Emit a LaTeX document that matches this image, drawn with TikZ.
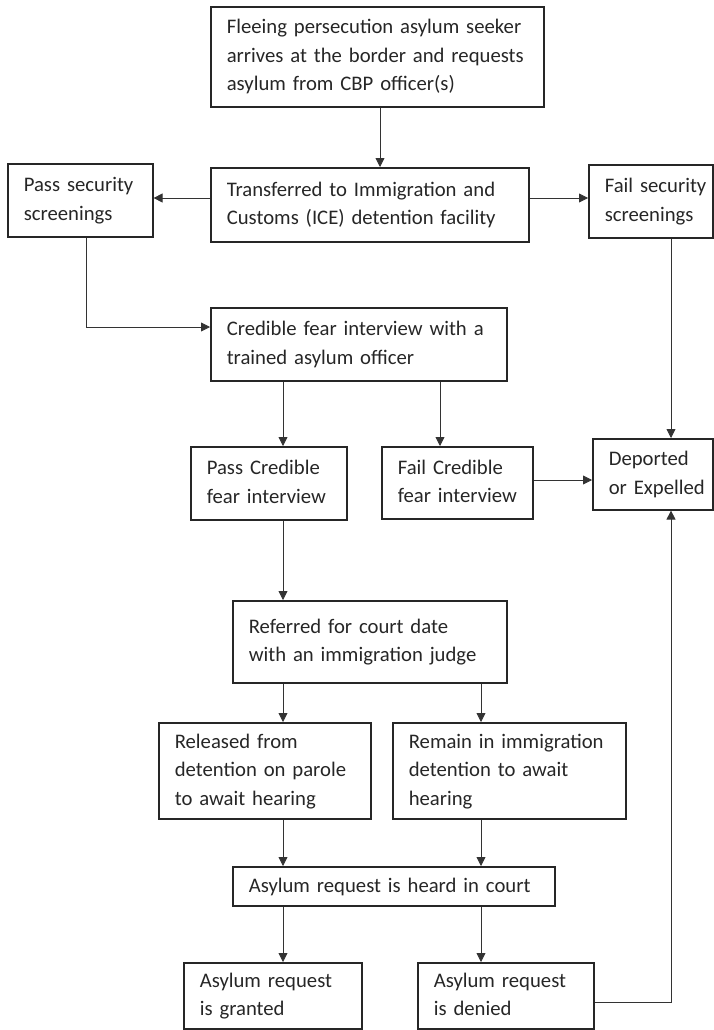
\documentclass[tikz,border=0pt]{standalone}
\usepackage{fontspec}
\setmainfont{Carlito}
\usepackage{xcolor}
\usepackage{tikz}
\usetikzlibrary{positioning,calc,arrows.meta}

% các dòng chữ trong hộp, không ngắt dòng
\newcommand{\boxlines}[1]{\begin{tabular}{@{}l@{}}#1\end{tabular}}

\begin{document}
\begin{tikzpicture}[
	x=1pt, y=-1pt,
	font=\fontsize{20.7}{28.5}\selectfont,
	% Style cho các hộp bước
	box/.style={
		draw=black!85, line width=1.6pt, rectangle,
		anchor=north west, align=left, text=black!85,
		inner xsep=16pt, inner ysep=2pt
	},
	% Style cho các mũi tên nối
	arr/.style={
		-{Triangle[length=9pt,width=9pt]},
		draw=black!80, line width=0.8pt
	}
	]
	
	\useasboundingbox (0,0) rectangle (714,1030);
	
	% ================= Các cột / hàng cho mũi tên =================
	\coordinate (xa) at (380,0);
	\coordinate (xl) at (283,0);
	\coordinate (xf) at (440,0);
	\coordinate (xr) at (481,0);
	\coordinate (xp) at (86,0);
	\coordinate (xd) at (671,0);
	\coordinate (ya) at (0,198);
	\coordinate (yb) at (0,327);
	\coordinate (yc) at (0,480);
	\coordinate (ye) at (0,1002);
	
	% ================= Đến biên giới =================
	\node[box, text width=301pt, minimum height=100pt] (seeker) at (210,6)
		{\boxlines{Fleeing persecution asylum seeker\\arrives at the border and requests\\asylum from CBP officer(s)}};
	
	\node[box, text width=286pt, minimum height=74pt] (transfer) at (210,167)
		{\boxlines{Transferred to Immigration and\\Customs (ICE) detention facility}};
	\node[box, text width=113pt, minimum height=73pt] (passsec) at (7,163)
		{\boxlines{Pass security\\screenings}};
	\node[box, text width=92pt, minimum height=73pt] (failsec) at (588,164)
		{\boxlines{Fail security\\screenings}};
	
	% ================= Phỏng vấn =================
	\node[box, text width=264pt, minimum height=73pt] (interview) at (210,307)
		{\boxlines{Credible fear interview with a\\trained asylum officer}};
	\node[box, text width=124pt, minimum height=73pt] (passcf) at (190,446)
		{\boxlines{Pass Credible\\fear interview}};
	\node[box, text width=119pt, minimum height=72pt] (failcf) at (381,446)
		{\boxlines{Fail Credible\\fear interview}};
	\node[box, text width=88pt, minimum height=71pt] (deport) at (592,438)
		{\boxlines{Deported\\or Expelled}};
	
	% ================= Tòa án =================
	\node[box, text width=242pt, minimum height=82pt] (referred) at (232,600)
		{\boxlines{Referred for court date\\with an immigration judge}};
	\node[box, text width=180pt, minimum height=96pt] (released) at (158,722)
		{\boxlines{Released from\\detention on parole\\to await hearing}};
	\node[box, text width=201pt, minimum height=96pt] (remain) at (392,722)
		{\boxlines{Remain in immigration\\detention to await\\hearing}};
	\node[box, text width=290pt, minimum height=39pt] (heard) at (232,866)
		{\boxlines{Asylum request is heard in court}};
	\node[box, text width=146pt, minimum height=66pt] (granted) at (183,962)
		{\boxlines{Asylum request\\is granted}};
	\node[box, text width=144pt, minimum height=66pt] (denied) at (417,962)
		{\boxlines{Asylum request\\is denied}};
	
	% ================= Mũi tên =================
	\draw[arr] (seeker.south -| xa) -- (transfer.north -| xa);
	\draw[arr] (transfer.west |- ya) -- (passsec.east |- ya);
	\draw[arr] (transfer.east |- ya) -- (failsec.west |- ya);
	\draw[arr] (passsec.south -| xp) |- (interview.west |- yb);
	\draw[arr] (failsec.south -| xd) -- (deport.north -| xd);
	
	\draw[arr] (interview.south -| xl) -- (passcf.north -| xl);
	\draw[arr] (interview.south -| xf) -- (failcf.north -| xf);
	\draw[arr] (failcf.east |- yc) -- (deport.west |- yc);
	\draw[arr] (passcf.south -| xl) -- (referred.north -| xl);
	
	\draw[arr] (referred.south -| xl) -- (released.north -| xl);
	\draw[arr] (referred.south -| xr) -- (remain.north -| xr);
	\draw[arr] (released.south -| xl) -- (heard.north -| xl);
	\draw[arr] (remain.south -| xr) -- (heard.north -| xr);
	\draw[arr] (heard.south -| xl) -- (granted.north -| xl);
	\draw[arr] (heard.south -| xr) -- (denied.north -| xr);
	
	% Bị từ chối -> trục xuất
	\draw[arr] (denied.east |- ye) -| (deport.south -| xd);
	
\end{tikzpicture}
\end{document}
